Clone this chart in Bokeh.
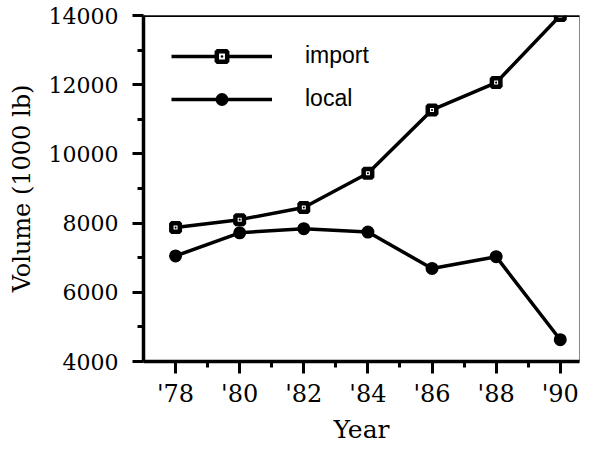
from bokeh.plotting import figure
from bokeh.models import (Range1d, FixedTicker, Span, Legend, LegendItem)
from bokeh.embed import file_html
from bokeh.resources import INLINE

years = [78, 80, 82, 84, 86, 88, 90]
import_vol = [7870, 8100, 8450, 9440, 11270, 12060, 14000]
local_vol = [7050, 7720, 7840, 7740, 6690, 7030, 4630]
x_major = [78, 80, 82, 84, 86, 88, 90]
x_minor = [79, 81, 83, 85, 87, 89]
x_labels = {78: "'78", 80: "'80", 82: "'82", 84: "'84", 86: "'86", 88: "'88", 90: "'90"}
y_major = [4000, 6000, 8000, 10000, 12000, 14000]
y_minor = [5000, 7000, 9000, 11000, 13000]

SERIF = "DejaVu Serif"
SANS = "Liberation Sans"

p = figure(width=581, height=446, output_backend="svg", toolbar_location=None,
           x_range=Range1d(77, 90.6), y_range=Range1d(4000, 14000),
           min_border_left=143, min_border_right=2, min_border_top=15, min_border_bottom=0)

p.xgrid.visible = False
p.ygrid.visible = False
p.outline_line_color = "#888888"
p.outline_line_width = 1
p.background_fill_color = "white"
p.border_fill_color = "white"

for ax in (p.xaxis[0], p.yaxis[0]):
    ax.axis_line_width = 3.5
    ax.axis_line_color = "black"
    ax.major_tick_line_width = 3
    ax.minor_tick_line_width = 3
    ax.major_tick_in = 0
    ax.minor_tick_in = 0
    ax.major_label_text_font = SERIF
    ax.major_label_text_color = "black"
    ax.axis_label_text_font = SERIF
    ax.axis_label_text_font_style = "normal"
    ax.axis_label_text_color = "black"

xa = p.xaxis[0]
xa.ticker = FixedTicker(ticks=x_major, minor_ticks=x_minor)
xa.major_label_overrides = x_labels
xa.major_tick_out = 12
xa.minor_tick_out = 6
xa.major_label_text_font_size = "24px"
xa.major_label_standoff = 6
xa.axis_label = "Year"
xa.axis_label_text_font_size = "25px"
xa.axis_label_standoff = 4

ya = p.yaxis[0]
ya.ticker = FixedTicker(ticks=y_major, minor_ticks=y_minor)
ya.major_tick_out = 11
ya.minor_tick_out = 6
ya.major_label_text_font_size = "22px"
ya.major_label_standoff = 14
ya.axis_label = "Volume (1000 lb)"
ya.axis_label_text_font_size = "24px"
ya.axis_label_standoff = 10

p.add_layout(Span(location=14000, dimension="width", line_color="black", line_width=3))

l_imp = p.line(years, import_vol, line_color="black", line_width=3.5)
s_imp = p.scatter(years, import_vol, marker="square_dot", size=8.5,
                  fill_color="white", line_color="black", line_width=4.5)
l_loc = p.line(years, local_vol, line_color="black", line_width=3.5)
s_loc = p.scatter(years, local_vol, marker="circle", size=10.5,
                  fill_color="black", line_color="black", line_width=2.5)

legend = Legend(items=[LegendItem(label="import", renderers=[l_imp, s_imp]),
                       LegendItem(label="local", renderers=[l_loc, s_loc])],
                location=(28, 249), orientation="vertical",
                glyph_width=101, glyph_height=26, label_height=26, spacing=16,
                label_standoff=33, padding=0, margin=0,
                border_line_alpha=0, background_fill_alpha=0,
                label_text_font=SANS, label_text_font_size="23px",
                label_text_color="black")
p.add_layout(legend)

open("out.html", "w").write(file_html(p, INLINE))
